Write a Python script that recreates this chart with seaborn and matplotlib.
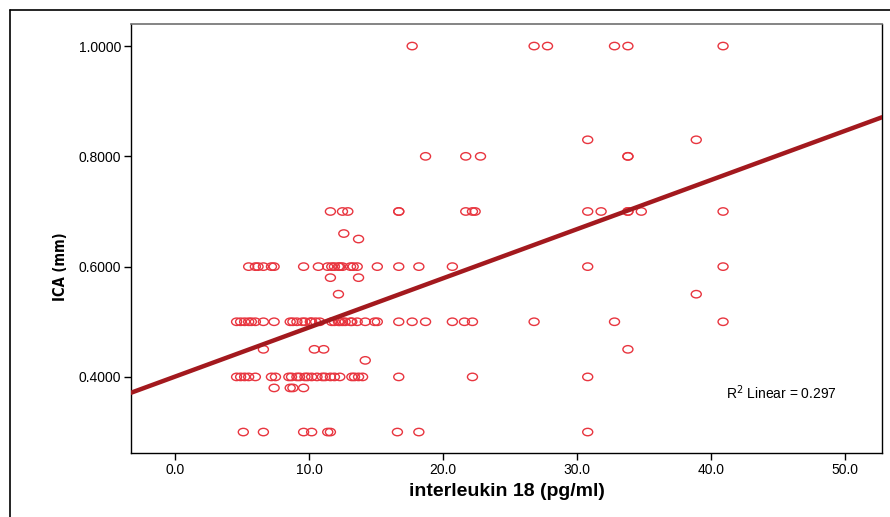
import numpy as np
import pandas as pd
import matplotlib
matplotlib.use("Agg")
import matplotlib.pyplot as plt
from matplotlib.path import Path
from matplotlib.lines import Line2D
import seaborn as sns

# IL-18 (pg/ml) readings grouped by measured ICA thickness (mm)
ica_levels = [1.00, 0.83, 0.80, 0.70, 0.66, 0.65, 0.60, 0.58, 0.55,
              0.50, 0.45, 0.43, 0.40, 0.38, 0.30]
il18_by_level = [
    [17.7, 26.8, 27.8, 32.8, 33.8, 40.9],
    [30.8, 38.9],
    [18.7, 21.7, 22.8, 33.8, 33.8],
    [11.6, 12.5, 12.9, 16.7, 16.7, 21.7, 22.2, 22.4, 30.8, 31.8, 33.8, 33.8,
     34.8, 40.9],
    [12.6],
    [13.7],
    [5.5, 6.0, 6.2, 6.6, 7.2, 7.4, 9.6, 10.7, 11.4, 11.7, 11.9, 12.2, 12.3,
     12.5, 13.1, 13.3, 13.6, 15.1, 16.7, 18.2, 20.7, 30.8, 40.9],
    [11.6, 13.7],
    [12.2, 38.9],
    [4.6, 4.9, 5.2, 5.5, 5.7, 6.0, 6.6, 7.4, 8.6, 8.8, 9.1, 9.5, 9.7, 10.1,
     10.2, 10.5, 10.8, 11.7, 11.9, 12.2, 12.3, 12.5, 12.7, 13.1, 13.2, 13.6,
     14.2, 14.9, 15.1, 16.7, 17.7, 18.7, 20.7, 21.6, 22.2, 26.8, 32.8, 40.9],
    [6.6, 10.4, 11.1, 33.8],
    [14.2],
    [4.6, 4.9, 5.2, 5.5, 6.0, 7.2, 7.5, 8.5, 8.7, 9.1, 9.3, 9.7, 9.9, 10.2,
     10.6, 11.0, 11.2, 11.6, 11.9, 12.3, 13.2, 13.4, 13.7, 14.0, 16.7, 22.2,
     30.8],
    [7.4, 8.6, 8.8, 9.6],
    [5.1, 6.6, 9.6, 10.2, 11.4, 11.6, 16.6, 18.2, 30.8],
]

x_ticks = [0, 10, 20, 30, 40, 50]
y_ticks = [0.4, 0.6, 0.8, 1.0]
r2_label = "R$^2$ Linear = 0.297"

df = pd.DataFrame({
    "il18": [v for xs in il18_by_level for v in xs],
    "ica": [lvl for lvl, xs in zip(ica_levels, il18_by_level) for _ in xs],
})

sns.set_style("white")
plt.rcParams["font.family"] = ["Liberation Sans", "DejaVu Sans"]
plt.rcParams["text.color"] = "black"
plt.rcParams["axes.labelcolor"] = "black"
plt.rcParams["xtick.color"] = "black"
plt.rcParams["ytick.color"] = "black"

W, H = 890, 517
fig = plt.figure(figsize=(W / 100, H / 100), dpi=100)
ax = fig.add_axes([131 / W, 1 - 453 / H, (882 - 131) / W, (453 - 24) / H])

ax.set_xlim(-3.28, 52.76)
ax.set_ylim(0.262, 1.04)

# flattened ellipse used as the scatter marker
ellipse = Path.unit_circle().transformed(
    matplotlib.transforms.Affine2D().scale(1.0, 0.74))

sns.scatterplot(data=df, x="il18", y="ica", ax=ax, marker=ellipse, s=52,
                facecolor="none", edgecolor="#e8353f", linewidth=1.0,
                zorder=3, legend=False)
sns.regplot(data=df, x="il18", y="ica", ax=ax, scatter=False, ci=None,
            truncate=False, color="#a3191e", line_kws={"linewidth": 3.2,
                                                       "zorder": 4})

ax.set_xlim(-3.28, 52.76)
ax.set_ylim(0.262, 1.04)
ax.set_xticks(x_ticks)
ax.set_xticklabels([f"{t:.1f}" for t in x_ticks])
ax.set_yticks(y_ticks)
ax.set_yticklabels([f"{t:.4f}" for t in y_ticks])
ax.tick_params(axis="both", direction="out", length=5, width=1,
               color="black", labelcolor="black", labelsize=10, pad=2,
               bottom=True, left=True)

for side in ["left", "right", "bottom"]:
    ax.spines[side].set_color("black")
    ax.spines[side].set_linewidth(1.0)
ax.spines["top"].set_color("#707070")
ax.spines["top"].set_linewidth(1.2)

ax.set_xlabel("interleukin 18 (pg/ml)", fontsize=14, fontweight="bold")
ax.set_ylabel("ICA (mm)", fontsize=10.5, fontweight="bold",
              family=["DejaVu Sans"], fontstretch="condensed")
ax.xaxis.set_label_coords(0.5, (453 - 483) / 429)
ax.yaxis.set_label_coords((68 - 131) / 751, (453 - 267) / 429)

ax.text(41.1, 0.371, r2_label, fontsize=10, ha="left", va="center")

# outer chart frame (left and top edges)
fig.add_artist(Line2D([10 / W, 10 / W], [0, 1 - 10 / H], color="black",
                      linewidth=1.2, transform=fig.transFigure))
fig.add_artist(Line2D([10 / W, 1], [1 - 10 / H, 1 - 10 / H], color="black",
                      linewidth=1.2, transform=fig.transFigure))

fig.savefig("out.png", dpi=100)
